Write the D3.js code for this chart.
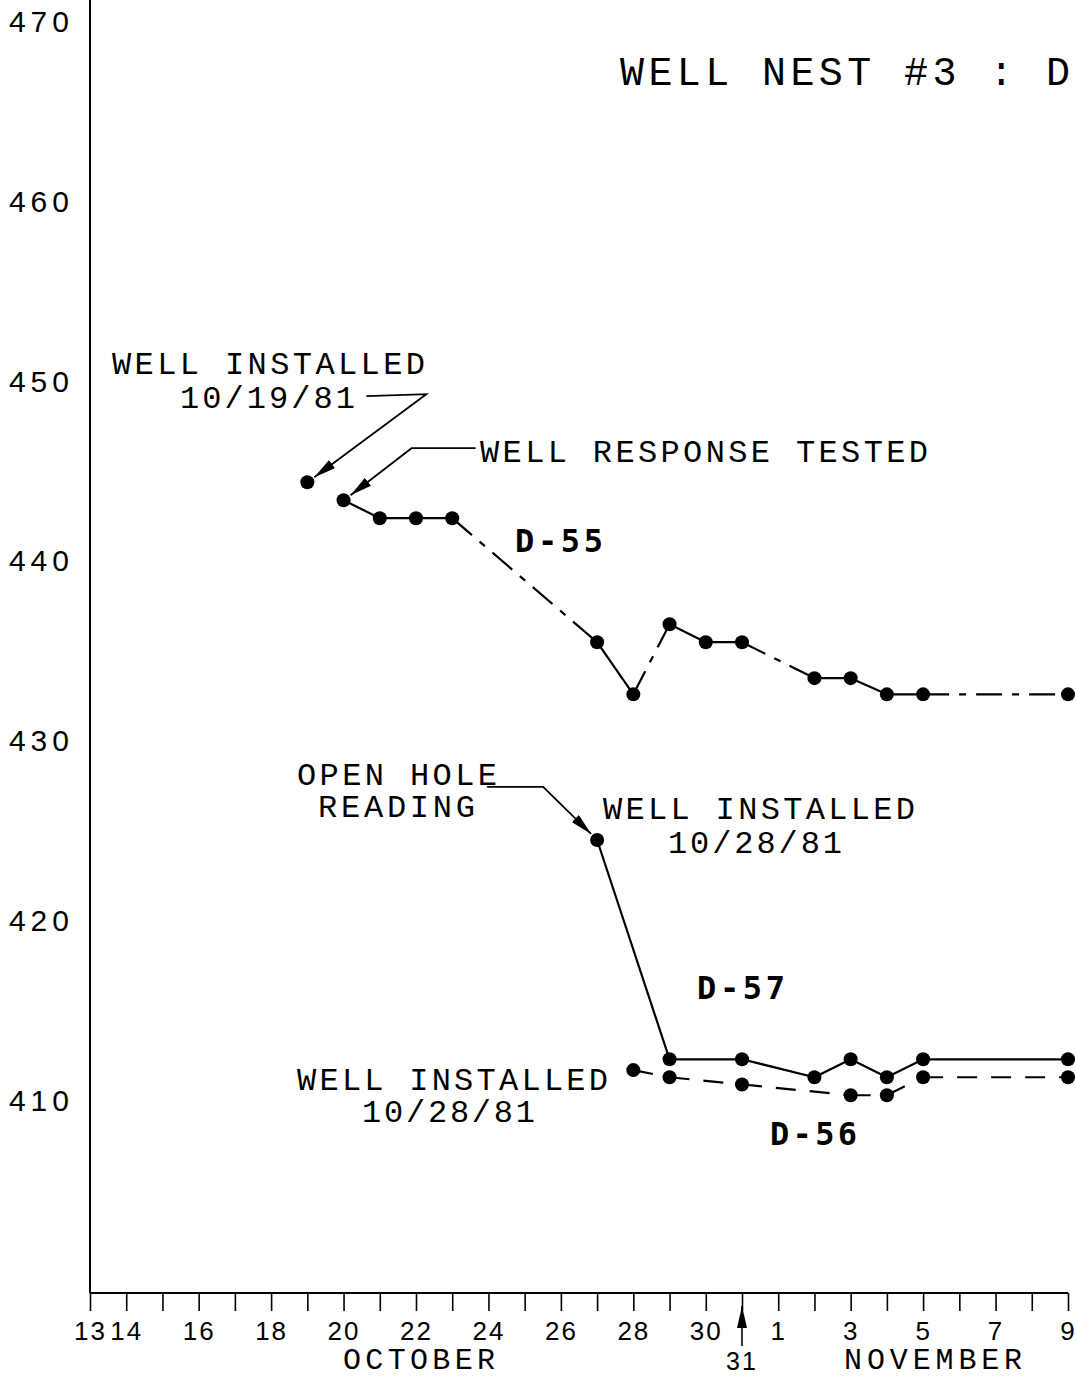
<!DOCTYPE html>
<html>
<head>
<meta charset="utf-8">
<script src="https://cdn.jsdelivr.net/npm/d3@7"></script>
<style>
  body { margin: 0; background: #fff; }
  svg { display: block; background: #fff; }
  .plot { font-family: "Liberation Mono", "DejaVu Sans Mono", monospace; fill: #000; }
</style>
</head>
<body>
<div id="chart"></div>
<script>
// water levels
const d55Dates = ["1981-10-19","1981-10-20","1981-10-21","1981-10-22","1981-10-23","1981-10-27","1981-10-28","1981-10-29","1981-10-30","1981-10-31","1981-11-02","1981-11-03","1981-11-04","1981-11-05","1981-11-09"]
const d55Levels = [444.4, 443.4, 442.4, 442.4, 442.4, 435.5, 432.6, 436.5, 435.5, 435.5, 433.5, 433.5, 432.6, 432.6, 432.6]
const d55Links = ["none","solid","solid","solid","dashdot","solid","dashdot","solid","solid","dashdot","solid","solid","solid","dashdot"]

const d57Dates = ["1981-10-27","1981-10-29","1981-10-31","1981-11-02","1981-11-03","1981-11-04","1981-11-05","1981-11-09"]
const d57Levels = [424.5, 412.3, 412.3, 411.3, 412.3, 411.3, 412.3, 412.3]
const d57Links = ["solid","solid","solid","solid","solid","solid","solid"]

const d56Dates = ["1981-10-28","1981-10-29","1981-10-31","1981-11-03","1981-11-04","1981-11-05","1981-11-09"]
const d56Levels = [411.7, 411.3, 410.9, 410.3, 410.3, 411.3, 411.3]
const d56Links = ["dash","dash","dash","dash","dash","dash"]

const yTicks = [410, 420, 430, 440, 450, 460, 470]
const xLabelDays = ["1981-10-13","1981-10-14","1981-10-16","1981-10-18","1981-10-20","1981-10-22","1981-10-24","1981-10-26","1981-10-28","1981-10-30","1981-11-01","1981-11-03","1981-11-05","1981-11-07","1981-11-09"]

const W = 1076, H = 1378
const parse = d3.utcParse("%Y-%m-%d")

const svg = d3.select("#chart").append("svg")
    .attr("width", W)
    .attr("height", H)
    .attr("class", "plot")

const x = d3.scaleUtc()
    .domain([parse("1981-10-13"), parse("1981-11-09")])
    .range([90, 1068])
const y = d3.scaleLinear()
    .domain([399.3, 470])
    .range([1293, 22])

const dashes = { solid: null, dash: "20,14", dashdot: "26,10,7,10" }

// arrow head
svg.append("defs").append("marker")
    .attr("id", "arrow")
    .attr("markerUnits", "userSpaceOnUse")
    .attr("viewBox", "0 0 22 10")
    .attr("refX", 22).attr("refY", 5)
    .attr("markerWidth", 22).attr("markerHeight", 10)
    .attr("orient", "auto")
  .append("path")
    .attr("d", "M0,0 L22,5 L0,10 Z")
    .attr("fill", "#000")

// axes
svg.append("line")
    .attr("x1", x.range()[0]).attr("x2", x.range()[0])
    .attr("y1", 0).attr("y2", y.range()[0])
    .attr("stroke", "#000").attr("stroke-width", 2)

const yAxis = svg.append("g")
    .attr("transform", `translate(${x.range()[0]},0)`)
    .call(d3.axisLeft(y).tickValues(yTicks).tickSize(0).tickPadding(16).tickFormat(d3.format("d")))
yAxis.select(".domain").remove()
yAxis.selectAll("text")
    .attr("font-family", "Liberation Sans, Arial, sans-serif")
    .attr("font-size", 30)
    .attr("letter-spacing", 5)
    .attr("fill", "#000")

const allDays = d3.utcDay.range(parse("1981-10-13"), d3.utcDay.offset(parse("1981-11-09"), 1))
const labelSet = new Set(xLabelDays)
const fmt = d3.utcFormat("%Y-%m-%d")
const xAxis = svg.append("g")
    .attr("transform", `translate(0,${y.range()[0]})`)
    .call(d3.axisBottom(x).tickValues(allDays).tickSize(18).tickPadding(11)
        .tickFormat(d => labelSet.has(fmt(d)) ? d3.utcFormat("%-d")(d) : ""))
xAxis.select(".domain").attr("stroke-width", 2).attr("d", `M${x.range()[0]},0H${x.range()[1]}`)
xAxis.selectAll(".tick line").attr("stroke-width", 1.6)
xAxis.selectAll("text")
    .attr("font-family", "Liberation Sans, Arial, sans-serif")
    .attr("font-size", 26)
    .attr("letter-spacing", 2)
    .attr("fill", "#000")

// 31 with arrow up to the axis
const d31 = parse("1981-10-31")
svg.append("line")
    .attr("x1", x(d31)).attr("x2", x(d31))
    .attr("y1", 1346).attr("y2", 1306)
    .attr("stroke", "#000").attr("stroke-width", 1.6)
    .attr("marker-end", "url(#arrow)")
svg.append("text")
    .attr("x", x(d31)).attr("y", 1370)
    .attr("text-anchor", "middle")
    .attr("font-family", "Liberation Sans, Arial, sans-serif")
    .attr("font-size", 25).attr("letter-spacing", 2)
    .text("31")

svg.append("text").attr("x", x(parse("1981-10-22")) + 3).attr("y", 1369)
    .attr("text-anchor", "middle").attr("font-size", 30)
    .attr("textLength", 152).attr("lengthAdjust", "spacing")
    .text("OCTOBER")
svg.append("text").attr("x", x(parse("1981-11-05")) + 10).attr("y", 1369)
    .attr("text-anchor", "middle").attr("font-size", 30)
    .attr("textLength", 178).attr("lengthAdjust", "spacing")
    .text("NOVEMBER")

// series
function drawSeries(dates, levels, links) {
    const pts = dates.map((d, i) => ({ date: parse(d), level: levels[i] }))
    const segs = links.map((s, i) => ({ a: pts[i], b: pts[i + 1], style: s }))
        .filter(s => s.style !== "none")
    const g = svg.append("g")
    g.selectAll("line").data(segs).enter().append("line")
        .attr("x1", d => x(d.a.date)).attr("y1", d => y(d.a.level))
        .attr("x2", d => x(d.b.date)).attr("y2", d => y(d.b.level))
        .attr("stroke", "#000").attr("stroke-width", 2.2)
        .attr("stroke-dasharray", d => dashes[d.style])
    g.selectAll("circle").data(pts).enter().append("circle")
        .attr("cx", d => x(d.date)).attr("cy", d => y(d.level))
        .attr("r", 7).attr("fill", "#000")
    return pts.map(p => [x(p.date), y(p.level)])
}

const p55 = drawSeries(d55Dates, d55Levels, d55Links)
const p57 = drawSeries(d57Dates, d57Levels, d57Links)
const p56 = drawSeries(d56Dates, d56Levels, d56Links)

// leader lines, offsets from the point they point at
function leader(anchor, offs) {
    const pts = offs.map(o => [anchor[0] + o[0], anchor[1] + o[1]])
    svg.append("path")
        .attr("d", d3.line()(pts))
        .attr("fill", "none").attr("stroke", "#000").attr("stroke-width", 1.8)
        .attr("marker-end", "url(#arrow)")
}
leader(p55[0], [[59, -86], [119, -88], [7, -5]])
leader(p55[1], [[132, -52], [68, -52], [7, -5]])
leader(p57[0], [[-110, -53], [-54, -53], [-6, -6]])

// text labels
function label(str, x0, base, width, size, bold) {
    svg.append("text")
        .attr("x", x0).attr("y", base)
        .attr("font-size", size)
        .attr("font-weight", bold ? "bold" : "normal")
        .attr("font-family", bold ? "DejaVu Sans Mono, monospace" : null)
        .attr("textLength", width).attr("lengthAdjust", "spacing")
        .text(str)
}
label("WELL NEST #3 : D", 620, 85, 450, 40)
label("WELL INSTALLED", 112, 374, 313, 32)
label("10/19/81", 180, 408, 175, 32)
label("WELL RESPONSE TESTED", 480, 462, 448, 32)
label("D-55", 515, 552, 88, 32, true)
label("OPEN HOLE", 297, 785, 200, 32)
label("READING", 318, 817, 157, 32)
label("WELL INSTALLED", 603, 819, 312, 32)
label("10/28/81", 668, 853, 174, 32)
label("D-57", 697, 999, 88, 32, true)
label("WELL INSTALLED", 297, 1090, 311, 32)
label("10/28/81", 362, 1122, 173, 32)
label("D-56", 770, 1145, 87, 32, true)
</script>
</body>
</html>
